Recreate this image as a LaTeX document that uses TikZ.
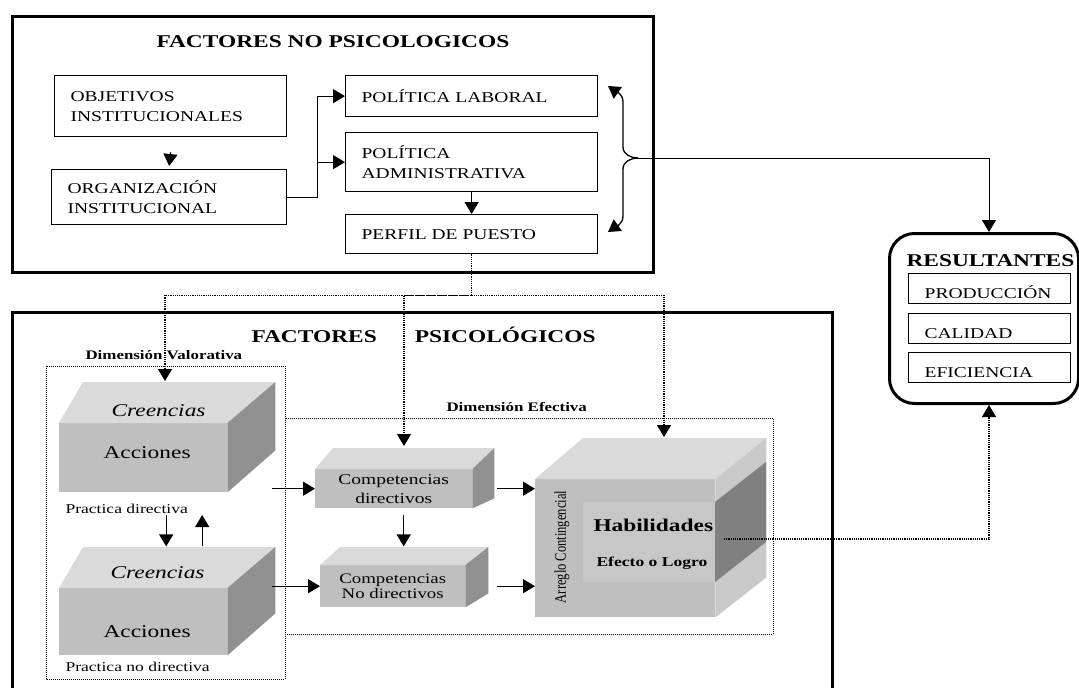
\documentclass[tikz,border=0pt]{standalone}
\usepackage{fontspec}
\setmainfont{Liberation Serif}[FakeStretch=1.3]
\newfontfamily\plainserif{Liberation Serif}
\usepackage{graphicx}
\usetikzlibrary{arrows.meta, calc, positioning}

\definecolor{facetop}{HTML}{DADADA}
\definecolor{facefront}{HTML}{BFBFBF}
\definecolor{faceside}{HTML}{919191}
\definecolor{facepanel}{HTML}{C7C7C7}
\definecolor{faceband}{HTML}{C9C9C9}
\definecolor{facedark}{HTML}{808080}

% top and right faces of a box drawn in front of a node
\newcommand\cubefaces[6]{%
  \fill[facetop] (#1.north west) -- ++(#2,#4) -- ($(#1.north east)+(#3,#4)$) -- (#1.north east) -- cycle;
  \fill[#6] (#1.north east) -- ++(#3,#4) -- ($(#1.south east)+(#3,#5)$) -- (#1.south east) -- cycle;
}

\begin{document}
\begin{tikzpicture}[x=1pt, y=-1pt,
  frame/.style={draw, line width=3pt},
  pbox/.style={draw, line width=1.3pt, anchor=north west, align=left,
    inner xsep=16pt, inner ysep=0pt, font=\fontsize{15}{20}\selectfont},
  rbox/.style={pbox, minimum height=30pt, text width=130pt, text height=20pt, text depth=0pt},
  face/.style={fill=facefront, anchor=north west, inner sep=0pt},
  title/.style={anchor=base west, font=\bfseries\fontsize{18}{20}\selectfont},
  dimlabel/.style={anchor=base west, font=\bfseries\fontsize{13}{15}\selectfont},
  txt/.style={anchor=base west, font=\fontsize{18}{20}\selectfont},
  small/.style={anchor=base west, font=\fontsize{13.5}{15}\selectfont},
  dimbox/.style={draw, densely dotted, line width=1pt},
  arr/.style={-{Triangle[width=14pt,length=12pt]}, line width=1.3pt},
  darr/.style={-{Triangle[width=14pt,length=12pt]}, densely dotted, line width=1.2pt}
]
\fill[white] (0,0) rectangle (1079,688);
\useasboundingbox (0,0) rectangle (1079,688);

% factores no psicologicos
\draw[frame] (12,16) rectangle (653,272);
\node[title] (tnps) at (153,47) {FACTORES NO PSICOLOGICOS};
\node[pbox, text width=200pt, minimum height=61pt] (obj) at (54,75) {OBJETIVOS\\INSTITUCIONALES};
\node[pbox, text width=203pt, minimum height=55pt] (org) at (51,169) {ORGANIZACIÓN\\INSTITUCIONAL};
\node[pbox, text width=220pt, minimum height=41pt] (pl) at (345,75) {POLÍTICA LABORAL};
\node[pbox, text width=220pt, minimum height=59pt] (pa) at (345,132) {POLÍTICA\\ADMINISTRATIVA};
\node[pbox, text width=220pt, minimum height=39pt] (perfil) at (345,214) {PERFIL DE PUESTO};

\draw[arr] ([yshift=-15pt]obj.south) -- ([yshift=3pt]org.north);
\draw[arr] (org.east) -- ++(30,0) |- (pl.west);
\draw[arr] (org.east) -- ++(30,0) |- (pa.west);
\draw[arr] (pa) -- (perfil);

% llave
\coordinate (brace) at (638,158);
\coordinate (bt) at (608,86);
\coordinate (bb) at (608,232);
\draw[arr] (brace) to[out=180,in=-90] (623,147) -- (623,102) to[out=90,in=-35] (bt);
\draw[arr] (brace) to[out=180,in=90] (623,169) -- (623,216) to[out=-90,in=35] (bb);

% resultantes
\node[draw, line width=3pt, rounded corners=25pt, anchor=north west,
  minimum width=189pt, minimum height=170pt] (res) at (888,232) {};
\node[title] (tres) at (903,266) {RESULTANTES};
\node[rbox] (prod) at (908,273) {PRODUCCIÓN};
\node[rbox] (cal) at (908,313) {CALIDAD};
\node[rbox] (efi) at (908,352) {EFICIENCIA};
\draw[arr, line width=1pt] (brace) -| ([xshift=5pt]res.north);

% factores psicologicos
\draw[frame] (12,700) -- (12,312) -- (832,312) -- (832,700);
\node[title] (tps) at (248,342) {FACTORES\hspace{38pt}PSICOLÓGICOS};

\draw[dimbox] (46,366) rectangle (285,679);
\draw[dimbox] (285,418) rectangle (773,634);

% dimension valorativa
\node[face, minimum width=168pt, minimum height=69pt] (c1) at (59,423) {};
\cubefaces{c1}{24}{48}{-41}{-42}{faceside}
\node[face, minimum width=168pt, minimum height=67pt] (c2) at (59,588) {};
\cubefaces{c2}{24}{48}{-41}{-42}{faceside}
\node[txt, font=\itshape\fontsize{18}{20}\selectfont] (cr1) at (108,416) {Creencias};
\node[txt] (ac1) at (100,458) {Acciones};
\node[txt, font=\itshape\fontsize{18}{20}\selectfont] (cr2) at (107,578) {Creencias};
\node[txt] (ac2) at (100,637) {Acciones};
\node[small] (pd) at (62,513) {Practica directiva};
\node[small] (pnd) at (62,671) {Practica no directiva};
\node[dimlabel] (dval) at (82,359) {Dimensión Valorativa};

\draw[arr] ([xshift=23pt,yshift=-23pt]c1.south) -- ++(0,31);
\draw[arr] ([xshift=59pt,yshift=42pt]c2.north) -- ++(0,-31);

% dimension efectiva
\node[dimlabel] (def) at (443,411) {Dimensión Efectiva};
\node[face, minimum width=157pt, minimum height=39pt, align=center,
  font=\fontsize{15}{19}\selectfont] (cd) at (315,469) {Competencias\\directivos};
\cubefaces{cd}{18}{22}{-21}{-10}{faceside}
\node[face, minimum width=145pt, minimum height=42pt, align=center,
  font=\fontsize{14.5}{15.5}\selectfont] (cnd) at (320,565) {Competencias\\No directivos};
\cubefaces{cnd}{20}{23}{-18}{-14}{faceside}

\node[face, minimum width=180pt, minimum height=138pt] (hab) at (535,479) {};
\cubefaces{hab}{48}{51}{-41}{-40}{faceband}
\fill[facepanel] (583,502) rectangle (715,582);
\fill[facedark] (715,502) -- (766,462) -- (766,542) -- (715,582) -- cycle;
\node[title] (hl) at (590,531) {Habilidades};
\node[anchor=base west, font=\bfseries\fontsize{13.5}{15}\selectfont] (el) at (593,566) {Efecto o Logro};
\node[rotate=90, font=\plainserif\fontsize{12.5}{14}\selectfont] (ac) at (562,547)
  {\scalebox{1}[1.3]{Arreglo Contingencial}};

\draw[arr] ($(cd.west)+(-43,0)$) -- (cd.west);
\draw[arr] ($(cnd.west)+(-48,0)$) -- (cnd.west);
\draw[arr] ([xshift=10pt,yshift=-7pt]cd.south) -- ++(0,31);
\draw[arr] ([xshift=25pt]cd.east) -- (cd.east -| hab.west);
\draw[arr] ([xshift=32pt]cnd.east) -- (cnd.east -| hab.west);

% conectores punteados
\coordinate (split) at ($(perfil.south)+(0,41)$);
\coordinate (c1in) at (165,381);
\coordinate (cdin) at (404,446);
\coordinate (habin) at (664,437);
\draw[darr] (perfil.south) -- (split) -| (c1in);
\draw[darr] (split) -| (cdin);
\draw[darr] (split) -| (habin);
\coordinate (habout) at (724,539);
\draw[darr] (habout) -| ([xshift=5pt]res.south);
\end{tikzpicture}
\end{document}
